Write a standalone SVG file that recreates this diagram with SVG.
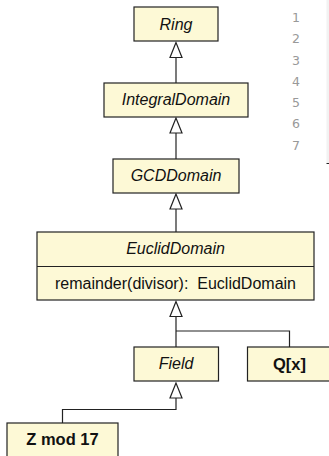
<svg xmlns="http://www.w3.org/2000/svg" width="329" height="456" viewBox="0 0 329 456">
<style>
.box{fill:#fdf9d6;stroke:#222;stroke-width:1.2}
.t{font-family:"Liberation Sans",Arial,sans-serif;font-size:16px;fill:#111;text-anchor:middle}
.i{font-style:italic}
.b{font-weight:bold;font-size:16.5px}
.ln{font-family:"DejaVu Sans",sans-serif;font-size:12.5px;fill:#999;text-anchor:middle}
.c{fill:none;stroke:#222;stroke-width:1.2}
.h{fill:#fff;stroke:#222;stroke-width:1.2}
</style>
<rect x="326.5" y="0" width="2.5" height="163" fill="#f2f2f2"/>
<line x1="326.5" y1="163.5" x2="329" y2="163.5" stroke="#222" stroke-width="1"/>
<g id="linenumbers">
<text class="ln" x="296" y="22">1</text>
<text class="ln" x="296" y="43">2</text>
<text class="ln" x="296" y="65">3</text>
<text class="ln" x="296" y="86">4</text>
<text class="ln" x="296" y="107">5</text>
<text class="ln" x="296" y="128">6</text>
<text class="ln" x="296" y="150">7</text>
</g>
<g id="connectors">
<path class="c" d="M176 57V83"/>
<path class="h" d="M176 42.5L170 57.5H182Z"/>
<path class="c" d="M176 133V159"/>
<path class="h" d="M176 118L170 133H182Z"/>
<path class="c" d="M176 209V232"/>
<path class="h" d="M176 194L170 209H182Z"/>
<path class="c" d="M176 316V347M176 331H289.5V347"/>
<path class="h" d="M176 301.5L170 316.5H182Z"/>
<path class="c" d="M176 398V409.5H62.5V423"/>
<path class="h" d="M176 383L170 398H182Z"/>
</g>
<g id="Ring">
<rect class="box" x="134" y="7" width="84" height="34"/>
<text class="t i" x="176" y="29.5">Ring</text>
</g>
<g id="IntegralDomain">
<rect class="box" x="104" y="83" width="144" height="34"/>
<text class="t i" x="176" y="104.5">IntegralDomain</text>
</g>
<g id="GCDDomain">
<rect class="box" x="113" y="159" width="126" height="34"/>
<text class="t i" x="176" y="181">GCDDomain</text>
</g>
<g id="EuclidDomain">
<rect class="box" x="37" y="232" width="277" height="68"/>
<line x1="37" y1="266.5" x2="314" y2="266.5" stroke="#222" stroke-width="1.2"/>
<text class="t i" x="175.5" y="254">EuclidDomain</text>
<text class="t" x="175.5" y="288.5" xml:space="preserve">remainder(divisor):  EuclidDomain</text>
</g>
<g id="Field">
<rect class="box" x="134" y="347" width="84.5" height="34"/>
<text class="t i" x="176" y="369">Field</text>
</g>
<g id="Qx">
<rect class="box" x="247.5" y="347" width="84" height="34"/>
<text class="t b" x="289.5" y="369.5">Q[x]</text>
</g>
<g id="Zmod17">
<rect class="box" x="7" y="423" width="111" height="34"/>
<text class="t b" x="62.5" y="444.5">Z mod 17</text>
</g>
</svg>
